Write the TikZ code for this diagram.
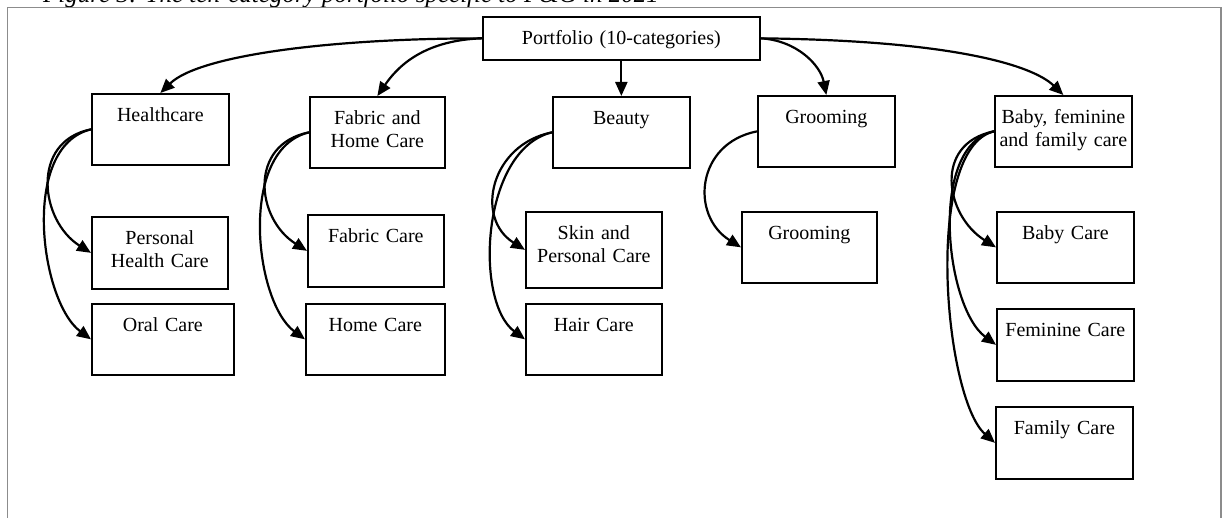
\documentclass[tikz,border=0pt]{standalone}
\usepackage{fontspec}
\setmainfont{Liberation Serif}
\usetikzlibrary{arrows.meta}

\tikzset{
  cbox/.style n args={2}{draw, line width=1.7pt, inner sep=0pt, anchor=north west,
    text width=#1pt, text height=27.5pt, text depth=#2pt, align=center,
    font=\fontsize{20}{23}\selectfont},
  link/.style={line width=2.2pt, -{Triangle[length=14pt,width=12pt]}},
  frame/.style={draw=black!45, line width=1.6pt},
}

\begin{document}
\begin{tikzpicture}[x=1pt,y=-1pt]
\useasboundingbox (0,0) rectangle (1223,518);
\clip (0,0) rectangle (1223,518);

% caption, partly above the page edge
\node[anchor=base west, inner sep=0pt, font=\fontsize{25}{28}\selectfont\itshape] (cap) at (43,3)
  {Figure 3: The ten-category portfolio specific to P\&G in 2021};

% surrounding frame
\draw[frame] (7.5,530) -- (7.5,7.7) -- (1221,7.7) -- (1221,530);

% root
\node[cbox={277}{15.5}] (pf) at (482,16) {Portfolio (10-categories)};

% categories
\node[cbox={137}{43.5}] (hc) at (91,93) {Healthcare};
\node[cbox={135}{43.5}] (fh) at (309,96) {Fabric and\\Home Care};
\node[cbox={137}{43.5}] (be) at (552,96) {Beauty};
\node[cbox={137}{43.5}] (gr) at (757,95) {Grooming};
\node[cbox={137}{43.5}] (bf) at (994,95) {Baby, feminine\\and family care};

% sub-categories
\node[cbox={136}{44.5}] (phc) at (91,216) {Personal\\Health Care};
\node[cbox={142}{43.5}] (oc) at (91,303) {Oral Care};
\node[cbox={136}{44.5}] (fc) at (307,214) {Fabric Care};
\node[cbox={139}{43.5}] (hoc) at (305,303) {Home Care};
\node[cbox={136}{48.5}] (sp) at (525,211) {Skin and\\Personal Care};
\node[cbox={136}{43.5}] (hac) at (525,303) {Hair Care};
\node[cbox={135}{43.5}] (gr2) at (741,211) {Grooming};
\node[cbox={137}{43.5}] (bc) at (996,211) {Baby Care};
\node[cbox={137}{44.5}] (fem) at (996,308) {Feminine Care};
\node[cbox={137}{44.5}] (fam) at (995,406) {Family Care};

% root to categories
\draw[link] (pf.west) .. controls +(-150,0) and +(39,-38) .. (hc.north);
\draw[link] (pf.west) .. controls +(-62,2) and +(18,-26) .. (fh.north);
\draw[link] (pf.south) -- (be.north);
\draw[link] (pf.east) .. controls +(36,2) and +(-6,-30) .. (gr.north);
\draw[link] (pf.east) .. controls +(191,2) and +(-31,-30) .. (bf.north);

% categories to sub-categories
\draw[link] (hc.west) .. controls +(-61,12) and +(-51,-32) .. (phc.west);
\draw[link] (hc.west) .. controls +(-71,17) and +(-51,-38) .. (oc.west);
\draw[link] (fh.west) .. controls +(-61,12) and +(-51,-32) .. (fc.west);
\draw[link] (fh.west) .. controls +(-71,17) and +(-51,-38) .. (hoc.west);
\draw[link] (be.west) .. controls +(-61,12) and +(-51,-32) .. (sp.west);
\draw[link] (be.west) .. controls +(-71,17) and +(-51,-38) .. (hac.west);
\draw[link] (gr.west) .. controls +(-61,12) and +(-51,-32) .. (gr2.west);
\draw[link] (bf.west) .. controls +(-61,12) and +(-51,-32) .. (bc.west);
\draw[link] (bf.west) .. controls +(-66,14) and +(-51,-38) .. (fem.west);
\draw[link] (bf.west) .. controls +(-71,17) and +(-51,-45) .. (fam.west);
\end{tikzpicture}
\end{document}
